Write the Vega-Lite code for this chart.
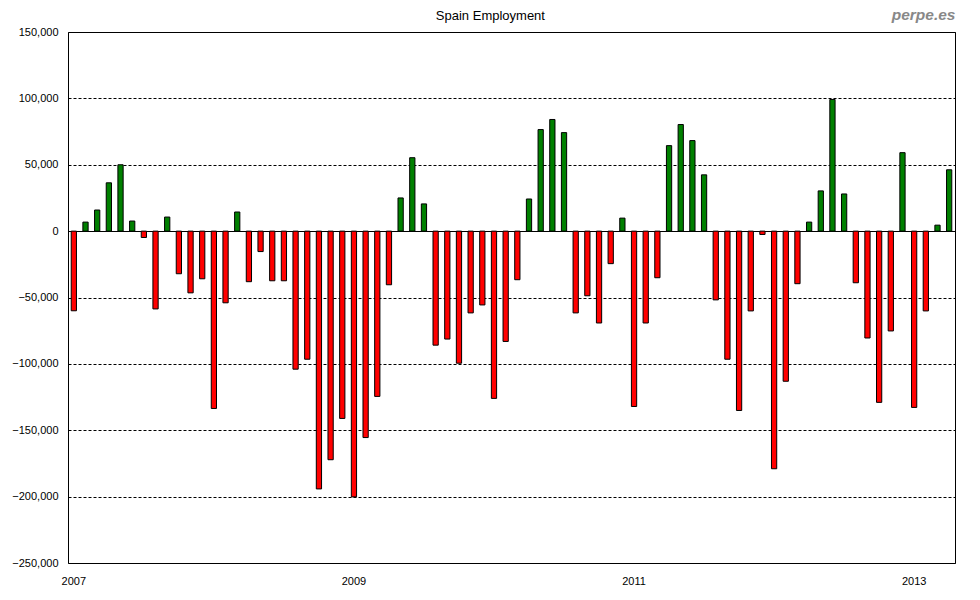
{
  "$schema": "https://vega.github.io/schema/vega-lite/v6.json",
  "width": 887,
  "height": 531,
  "autosize": {"type": "none"},
  "padding": {"left": 68, "top": 32, "right": 25, "bottom": 37},
  "background": "white",
  "title": {"text": "Spain Employment", "anchor": "middle", "frame": "bounds", "fontSize": 13, "fontWeight": "normal", "font": "Liberation Sans", "color": "#000", "offset": -16, "dx": 7},
  "config": {
    "view": {"stroke": "#000", "strokeWidth": 1},
    "axis": {"labelFont": "Liberation Sans", "titleFont": "Liberation Sans"}
  },
  "data": {"values": [
    {"m": "2007-01", "v": -60000}, {"m": "2007-02", "v": 6800}, {"m": "2007-03", "v": 15900}, {"m": "2007-04", "v": 36400},
    {"m": "2007-05", "v": 50000}, {"m": "2007-06", "v": 7600}, {"m": "2007-07", "v": -4800}, {"m": "2007-08", "v": -58600},
    {"m": "2007-09", "v": 10600}, {"m": "2007-10", "v": -32100}, {"m": "2007-11", "v": -46500}, {"m": "2007-12", "v": -35900},
    {"m": "2008-01", "v": -133600}, {"m": "2008-02", "v": -54000}, {"m": "2008-03", "v": 14400}, {"m": "2008-04", "v": -38100},
    {"m": "2008-05", "v": -15400}, {"m": "2008-06", "v": -37400}, {"m": "2008-07", "v": -37400}, {"m": "2008-08", "v": -104000},
    {"m": "2008-09", "v": -96500}, {"m": "2008-10", "v": -194200}, {"m": "2008-11", "v": -172200}, {"m": "2008-12", "v": -141100},
    {"m": "2009-01", "v": -200200}, {"m": "2009-02", "v": -155500}, {"m": "2009-03", "v": -124500}, {"m": "2009-04", "v": -40400},
    {"m": "2009-05", "v": 25000}, {"m": "2009-06", "v": 55300}, {"m": "2009-07", "v": 20500}, {"m": "2009-08", "v": -85900},
    {"m": "2009-09", "v": -81300}, {"m": "2009-10", "v": -99500}, {"m": "2009-11", "v": -61600}, {"m": "2009-12", "v": -55600},
    {"m": "2010-01", "v": -126000}, {"m": "2010-02", "v": -83100}, {"m": "2010-03", "v": -36600}, {"m": "2010-04", "v": 24200},
    {"m": "2010-05", "v": 76500}, {"m": "2010-06", "v": 84100}, {"m": "2010-07", "v": 74200}, {"m": "2010-08", "v": -61600},
    {"m": "2010-09", "v": -48700}, {"m": "2010-10", "v": -69200}, {"m": "2010-11", "v": -24500}, {"m": "2010-12", "v": 9800},
    {"m": "2011-01", "v": -132100}, {"m": "2011-02", "v": -69200}, {"m": "2011-03", "v": -35100}, {"m": "2011-04", "v": 64400},
    {"m": "2011-05", "v": 80300}, {"m": "2011-06", "v": 68200}, {"m": "2011-07", "v": 42400}, {"m": "2011-08", "v": -51800},
    {"m": "2011-09", "v": -96500}, {"m": "2011-10", "v": -135100}, {"m": "2011-11", "v": -60100}, {"m": "2011-12", "v": -2500},
    {"m": "2012-01", "v": -179000}, {"m": "2012-02", "v": -113100}, {"m": "2012-03", "v": -39600}, {"m": "2012-04", "v": 6800},
    {"m": "2012-05", "v": 30300}, {"m": "2012-06", "v": 99200}, {"m": "2012-07", "v": 28000}, {"m": "2012-08", "v": -38900},
    {"m": "2012-09", "v": -80500}, {"m": "2012-10", "v": -129000}, {"m": "2012-11", "v": -75200}, {"m": "2012-12", "v": 59100},
    {"m": "2013-01", "v": -132800}, {"m": "2013-02", "v": -60100}, {"m": "2013-03", "v": 4500}, {"m": "2013-04", "v": 46200}
  ]},
  "layer": [
    {
      "mark": {"type": "bar", "stroke": "#000", "strokeWidth": 1},
      "encoding": {
        "x": {
          "field": "m", "type": "ordinal", "sort": null,
          "scale": {"paddingInner": 0.55, "paddingOuter": 0.275},
          "axis": {"orient": "bottom", "title": null, "values": ["2007-01", "2009-01", "2011-01", "2013-01"], "labelExpr": "slice(datum.value, 0, 4)", "labelAngle": 0, "ticks": false, "domain": false, "grid": false, "labelPadding": 12, "labelFontSize": 11, "labelColor": "#000"}
        },
        "y": {
          "field": "v", "type": "quantitative",
          "scale": {"domain": [-250000, 150000], "nice": false},
          "axis": {"title": null, "values": [-250000, -200000, -150000, -100000, -50000, 0, 50000, 100000, 150000], "format": ",.0f", "ticks": false, "domain": false, "labelPadding": 10, "labelFontSize": 11, "labelColor": "#000", "gridColor": "#000", "gridOpacity": 1, "gridWidth": 1, "gridDash": {"condition": {"test": "datum.value === 0", "value": []}, "value": [3, 2]}}
        },
        "color": {"condition": {"test": "datum.v >= 0", "value": "#008000"}, "value": "#ff0000"}
      }
    },
    {
      "mark": {"type": "bar", "opacity": 0},
      "encoding": {
        "x": {
          "field": "m", "type": "ordinal", "sort": null,
          "axis": {"orient": "top", "labels": false, "ticks": false, "domain": false, "grid": false, "title": "perpe.es", "titleAnchor": "end", "titleFontSize": 15.5, "titleFontWeight": "bold", "titleFontStyle": "italic", "titleColor": "#888888", "titlePadding": 10}
        }
      }
    }
  ],
  "resolve": {"axis": {"x": "independent"}}
}
